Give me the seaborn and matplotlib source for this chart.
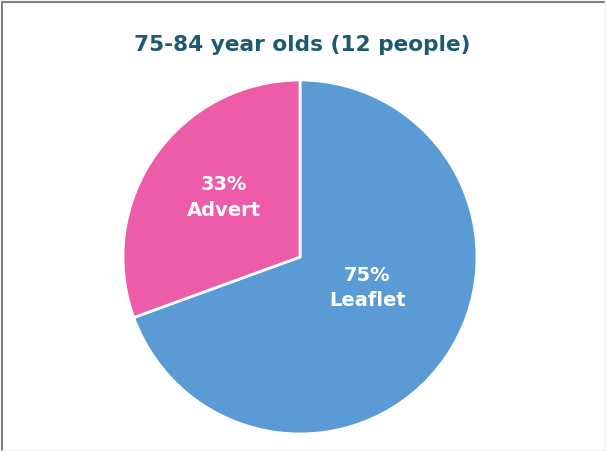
import matplotlib
matplotlib.use("Agg")
import matplotlib.pyplot as plt
import seaborn as sns
from matplotlib.lines import Line2D

categories = ["Leaflet", "Advert"]
values = [75, 33]
pct_labels = ["75%", "33%"]
colors = ["#5B9BD5", "#EC5CA9"]
title = "75-84 year olds (12 people)"

sns.set_theme(style="white")
plt.rcParams['font.family'] = ['DejaVu Sans']

W, H = 606, 452
fig = plt.figure(figsize=(W / 100, H / 100), dpi=100)
fig.patch.set_facecolor("white")

cx, cy, r = 300, 258, 177
ax = fig.add_axes([(cx - r) / W, (H - cy - r) / H, 2 * r / W, 2 * r / H])
wedges, _ = ax.pie(values, colors=colors, startangle=90, counterclock=False,
                   wedgeprops=dict(edgecolor="white", linewidth=2))
ax.set_xlim(-1, 1)
ax.set_ylim(-1, 1)
ax.set_aspect("equal")
ax.axis("off")

label_pos = [(0.38, -0.17), (-0.43, 0.34)]
for (x, y), pct, cat in zip(label_pos, pct_labels, categories):
    ax.text(x, y, f"{pct}\n{cat}", ha="center", va="center", color="white",
            fontsize=14, fontweight="bold", linespacing=1.45)

fig.text(302 / W, 1 - 45 / H, title, ha="center", va="center",
         color="#1B5A70", fontsize=15.6, fontweight="bold")

# frame
fig.add_artist(Line2D([2.5 / W, 2.5 / W], [0, 1 - 2.5 / H], color="#808080", lw=1.5, transform=fig.transFigure))
fig.add_artist(Line2D([2.5 / W, 604 / W], [1 - 2.5 / H, 1 - 2.5 / H], color="#808080", lw=1.5, transform=fig.transFigure))
fig.add_artist(Line2D([604.5 / W, 604.5 / W], [0, 1 - 2.5 / H], color="#F0F0F0", lw=1, transform=fig.transFigure))
fig.add_artist(Line2D([2.5 / W, 604.5 / W], [1.5 / H, 1.5 / H], color="#F0F0F0", lw=1, transform=fig.transFigure))

fig.savefig("out.png", dpi=100, facecolor="white")
